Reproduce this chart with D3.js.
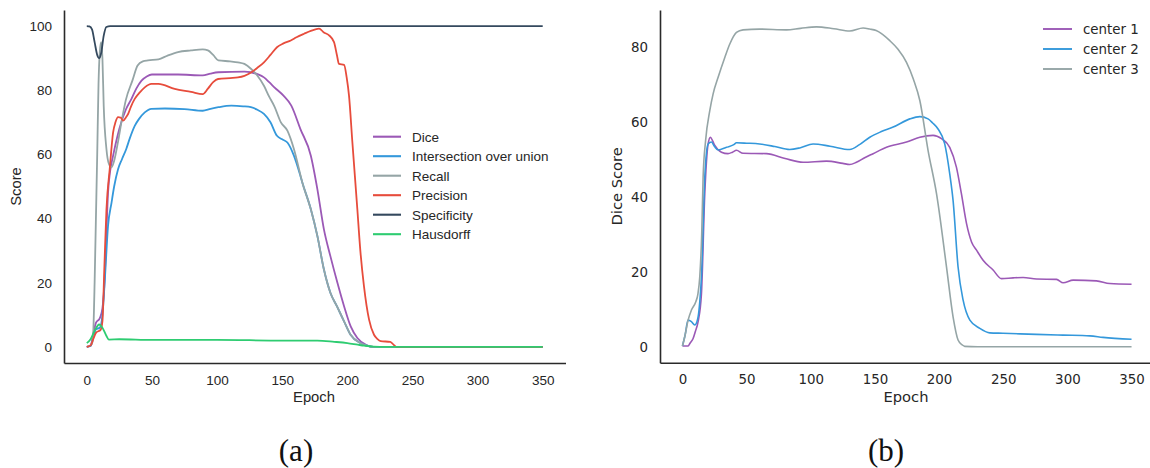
<!DOCTYPE html>
<html>
<head>
<meta charset="utf-8">
<script src="https://cdn.jsdelivr.net/npm/d3@7"></script>
<style>
html,body{margin:0;padding:0;background:#fff;}
svg{display:block;}
</style>
</head>
<body>
<svg id="chart" width="1150" height="468"></svg>
<script>
// ---------- data ----------
const xTicks = [0, 50, 100, 150, 200, 250, 300, 350];
const yTicksA = [0, 20, 40, 60, 80, 100];
const yTicksB = [0, 20, 40, 60, 80];

const metricNames = ["Dice", "Intersection over union", "Recall", "Precision", "Specificity", "Hausdorff"];
const metricColors = ["#9b59b6", "#3498db", "#95a5a6", "#e74c3c", "#34495e", "#2ecc71"];

const diceEpoch = [0,3,5,7,10,12,13.8,15,16.3,18,20.2,25,30,34.3,38,42,46,50,70,89,95,101,121,126,131,136,140,144,151,157,164,172,177,182,187,192.4,197.5,202.6,207.7,215,220,350];
const diceValue = [0,0.5,4,7.5,9,12,22,35,48,55,59.6,68,74,77.3,80.5,83,84.3,84.9,84.9,84.6,85.2,85.6,85.8,85.6,85,84,82.5,80.9,78.3,75.2,67.9,59.6,49.2,36.7,28.3,20,12.7,6.4,2.8,0.5,0,0];

const iouEpoch = [0,3,5,7,10,12,14,16.3,19,21,24,27,30.3,33,36.8,40,44.5,49.6,60,75,89,95,101,111,120,126,131,136,141,146,150,154,159,164,165.5,172,177,182,187,192,197.5,202.5,210,216,220,350];
const iouValue = [0,0.3,3,5.5,6,10,22,37.7,45,50,55.4,58.5,61.7,65,68.9,71,73.1,74.2,74.3,74.1,73.6,74.2,74.7,75.2,75,74.7,73.9,72.6,70,65.8,64.7,63.7,59.6,53.3,51.2,42.9,34.6,24.2,16.9,12.7,8,3.8,1.2,0.3,0,0];

const recallEpoch = [0,4,5,6,7,8,9,10,11,12,13,15,17,19,21,24,27,30,35,39,43,47,55,62,70,80,89,93,97,101,110,116,121,126,131,136,140,144,149,154,159,165.5,172,177,182,187,192,197.5,202.5,210,216,220,350];
const recallValue = [0,1,5,20,40,60,82,92,95,90,75,62,57,56,58,64,71,77,83,87.7,89,89.3,89.6,90.8,91.9,92.4,92.7,92.4,91,89.3,89,88.7,88.2,86.7,84.5,81.4,78,75,70,67.4,61.7,51.2,42.9,34.6,24.2,16.9,12.7,8,3.8,1.2,0.3,0,0];

const precisionEpoch = [0,3,5,7,10.7,12,13.5,15.1,17.6,20.2,22,24,26,27.9,30,31.7,34,36.8,40,44.5,49.6,55,67.5,80,89,93,97,100.8,110,116,121,126.4,131,136,141,146,151,156.6,161,166.8,172,178.3,182,186,189.8,192,193.6,197.5,199.5,201.3,203.9,207.7,210,212.8,216.7,220.5,223,225.6,233,236,238,350];
const precisionValue = [0,0.5,2.5,4.4,5.4,8,25,42.9,55.4,66.9,70,71.6,71.5,70.5,71.5,72.6,75,77.3,79,80.9,82,82,80.4,79.5,78.8,80.5,82.5,83.5,83.8,84,84.5,85.6,87,88.7,91,93.4,94.6,95.5,96.5,97.6,98.5,99.2,98,97.1,95,91,88.2,87.9,84,78.3,63.7,42.9,30,18.9,8.5,3.8,2.5,1.8,1.6,0.5,0,0];

const specificityEpoch = [0,2,4,6,8,9.5,11,13,15,18,350];
const specificityValue = [100,99.9,99,95,91,90,91.5,97,99.7,100,100];

const hausdorffEpoch = [0,3,6,9.5,12,15,17,25,50,100,150,177,190,200,208,213,220,230,350];
const hausdorffValue = [1.2,2.5,5,7,6,3.5,2.3,2.4,2.2,2.2,2.0,2.0,1.6,1.2,0.7,0.4,0.1,0,0];

const centerNames = ["center 1", "center 2", "center 3"];
const centerColors = ["#9b59b6", "#3498db", "#95a5a6"];

const center1Epoch = [0,4.4,6,8.3,10,12.2,14.8,17.4,20,21.8,23.5,25.2,30.4,35.5,39,42.1,47.2,65.5,80,94,112.2,125,130.4,135.6,142,148.6,159,174.6,185,195.3,201.9,208.3,213.5,217.4,221.4,225.3,229.2,234.3,242.1,248.6,257.7,265.5,275.9,291.5,296.7,304.5,322.7,333,350];
const center1Value = [0.2,0.2,1,2.2,4,6.7,14.2,40.9,54.2,56,55,53.8,52,51.6,52,52.5,51.7,51.6,50.3,49.3,49.6,49,48.7,49.3,50.5,51.6,53.3,54.7,56,56.5,55.6,53.3,48,40.9,32.9,28,25.8,23.1,20.5,18.2,18.4,18.5,18.1,18,17.1,17.8,17.6,16.9,16.7];

const center2Epoch = [0,2,4.4,7,9.6,12.2,13.5,14.8,17.4,20,22.6,25,27.8,34.3,40,42.1,50,60.2,72,83.6,92,101.8,115,130.4,138,146,155,164.2,177.2,185,191.4,195,199.2,204.4,208.3,210.9,214.8,218.7,224,231.7,239.5,249.8,275.9,296.7,317.5,327.8,350];
const center2Value = [0.2,3,7.1,6.7,5.8,8,12,18.7,45.3,54.2,54.7,53.5,52.6,53.3,54,54.5,54.4,54.2,53.5,52.7,53.2,54.2,53.6,52.7,54,56,57.5,58.7,60.9,61.5,60.9,59.8,58.2,54.2,46.2,39.1,21.3,12.5,7.1,4.9,3.7,3.6,3.3,3.1,2.9,2.5,2.0];

const center3Epoch = [0,2,4.4,7,10.4,12,13.5,15,16.1,18,21.3,23.9,27.8,33,36.9,42.1,47.2,60,81,92,104.4,118,130.4,140.8,146,151,161.6,168,174.6,180,185,191.4,198,205.8,210.9,214.8,218,220,230,350];
const center3Value = [0.2,3,7.1,9.8,12,14,18.7,30,45.3,55,63.1,67.6,72,77.3,80.9,84,84.7,84.9,84.7,85.1,85.5,85,84.4,85.2,84.9,84.5,81.8,79.5,76,71.5,65.8,52.5,40.9,21.3,8,1.8,0.5,0.1,0,0];

// ---------- drawing ----------
const svg = d3.select("#chart");
const axisColor = "#2a2a2a";
const textColor = "#262626";

function zip(ep, val) { return ep.map((e, i) => ({x: e, y: val[i]})); }

function panel(opts) {
  const g = svg.append("g");
  const x = d3.scaleLinear().domain([-17.5, 367.5]).range(opts.xRange);
  const y = d3.scaleLinear().domain(opts.yDomain).range(opts.yRange);

  const line = d3.line().x(d => x(d.x)).y(d => y(d.y)).curve(d3.curveMonotoneX);
  opts.series.forEach((s, i) => {
    g.append("path")
      .datum(zip(s[0], s[1]))
      .attr("fill", "none")
      .attr("stroke", opts.colors[i])
      .attr("stroke-width", opts.lw)
      .attr("stroke-linejoin", "round")
      .attr("d", line);
  });

  const xa = g.append("g")
    .attr("transform", `translate(0,${opts.yRange[0]})`)
    .call(d3.axisBottom(x).tickValues(xTicks).tickSize(0).tickPadding(12).tickSizeOuter(0));
  const ya = g.append("g")
    .attr("transform", `translate(${opts.xRange[0]},0)`)
    .call(d3.axisLeft(y).tickValues(opts.yTicks).tickSize(0).tickPadding(12).tickSizeOuter(0));
  [xa, ya].forEach(a => {
    a.select(".domain").attr("stroke", axisColor).attr("stroke-width", 1.6);
    a.selectAll("text").attr("fill", textColor)
      .style("font-family", opts.font).style("font-size", opts.tickSize + "px");
  });

  g.append("text")
    .attr("x", opts.xLabelX)
    .attr("y", 401.5)
    .attr("text-anchor", "middle")
    .attr("fill", textColor)
    .style("font-family", opts.font).style("font-size", opts.labelSize + "px")
    .text("Epoch");
  g.append("text")
    .attr("transform", `translate(${opts.yLabelX},${(opts.yRange[0] + opts.yRange[1]) / 2}) rotate(-90)`)
    .attr("text-anchor", "middle")
    .attr("fill", textColor)
    .style("font-family", opts.font).style("font-size", opts.labelSize + "px")
    .text(opts.yLabel);

  // legend
  const lg = g.append("g");
  opts.names.forEach((n, i) => {
    const yy = opts.legY + i * opts.legStep;
    lg.append("line")
      .attr("x1", opts.legX).attr("x2", opts.legX + opts.legLen)
      .attr("y1", yy).attr("y2", yy)
      .attr("stroke", opts.colors[i]).attr("stroke-width", opts.lw + 0.3);
    lg.append("text")
      .attr("x", opts.legX + opts.legLen + opts.legGap)
      .attr("y", yy)
      .attr("dy", "0.36em")
      .attr("fill", textColor)
      .style("font-family", opts.font).style("font-size", opts.legSize + "px")
      .text(n);
  });
}

panel({
  xRange: [64, 565.5], yDomain: [-5, 105], yRange: [363, 10], yTicks: yTicksA,
  series: [[diceEpoch, diceValue], [iouEpoch, iouValue], [recallEpoch, recallValue],
           [precisionEpoch, precisionValue], [specificityEpoch, specificityValue], [hausdorffEpoch, hausdorffValue]],
  colors: metricColors, names: metricNames, lw: 1.8,
  font: "'Liberation Sans', Arial, sans-serif", tickSize: 13.5, labelSize: 14.8, legSize: 13.5,
  yLabel: "Score", yLabelX: 21, xLabelX: 314,
  legX: 373, legLen: 28, legGap: 11, legY: 136.7, legStep: 19.5
});

panel({
  xRange: [660, 1154], yDomain: [-4.27, 90], yRange: [362.7, 10], yTicks: yTicksB,
  series: [[center1Epoch, center1Value], [center2Epoch, center2Value], [center3Epoch, center3Value]],
  colors: centerColors, names: centerNames, lw: 1.6,
  font: "'DejaVu Sans', sans-serif", tickSize: 13.4, labelSize: 14.7, legSize: 13.4,
  yLabel: "Dice Score", yLabelX: 622, xLabelX: 906,
  legX: 1043, legLen: 29, legGap: 11, legY: 29, legStep: 20
});

// sub-figure captions
[["(a)", 296], ["(b)", 886]].forEach(c => {
  svg.append("text")
    .attr("x", c[1]).attr("y", 461)
    .attr("text-anchor", "middle")
    .attr("fill", "#111")
    .style("font-family", "'Liberation Serif', 'DejaVu Serif', serif")
    .style("font-size", "31px")
    .text(c[0]);
});
</script>
</body>
</html>
